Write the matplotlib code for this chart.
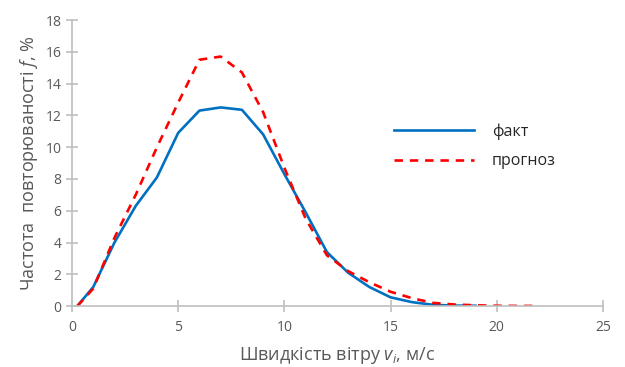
import matplotlib.pyplot as plt

plt.rcParams['font.family'] = ['Open Sans', 'DejaVu Sans']
plt.rcParams['mathtext.fontset'] = 'custom'
plt.rcParams['mathtext.it'] = 'Open Sans:italic'
plt.rcParams['mathtext.rm'] = 'Open Sans'

# швидкість вітру, м/с
v_fact = [0.25, 1, 2, 3, 4, 5, 6, 7, 8, 9, 10, 11, 12, 13, 14, 15, 16, 17, 18, 19]
f_fact = [0, 1.2, 4.0, 6.3, 8.1, 10.9, 12.3, 12.5, 12.35, 10.8, 8.3, 5.9, 3.4,
          2.1, 1.2, 0.55, 0.25, 0.08, 0.03, 0.02]

v_prog = [0.25, 1, 2, 3, 4, 5, 6, 7, 8, 9, 10, 11, 12, 13, 14, 15, 16, 17, 18,
          19, 20, 21, 22]
f_prog = [0, 1.1, 4.3, 7.0, 10.0, 12.8, 15.5, 15.7, 14.7, 12.2, 8.7, 5.5, 3.2,
          2.2, 1.5, 0.9, 0.5, 0.2, 0.1, 0.05, 0.02, 0.01, 0.01]

fig = plt.figure(figsize=(6.25, 3.67), dpi=100)
ax = fig.add_axes([0.1152, 0.166, 0.8496, 0.7795])

ax.plot(v_fact, f_fact, color='#0070C0', lw=1.9, label='факт')
ax.plot(v_prog, f_prog, color='#FF0000', lw=1.9, ls=(0, (3.2, 2.6)), label='прогноз')

ax.set_xlim(0, 25)
ax.set_ylim(0, 18)
ax.set_xticks(range(0, 26, 5))
ax.set_yticks(range(0, 19, 2))

for s in ['top', 'right']:
    ax.spines[s].set_visible(False)
for s in ['left', 'bottom']:
    ax.spines[s].set_color('#BFBFBF')
    ax.spines[s].set_linewidth(1.2)
ax.tick_params(direction='inout', length=8, width=1.2, color='#BFBFBF',
               labelcolor='#595959', labelsize=10)
ax.tick_params(axis='x', pad=6)

ax.set_xlabel('Швидкість вітру $v_i$, м/с', color='#595959', fontsize=13, labelpad=7)
ax.set_ylabel('Частота  повторюваності $f$, %', color='#595959', fontsize=13, labelpad=4)

ax.legend(loc='upper left', bbox_to_anchor=(0.58, 0.69), frameon=False,
          handlelength=5.0, fontsize=11.5, labelspacing=0.85, handletextpad=1.1,
          labelcolor='#262626')

fig.savefig('out.png', dpi=100)
